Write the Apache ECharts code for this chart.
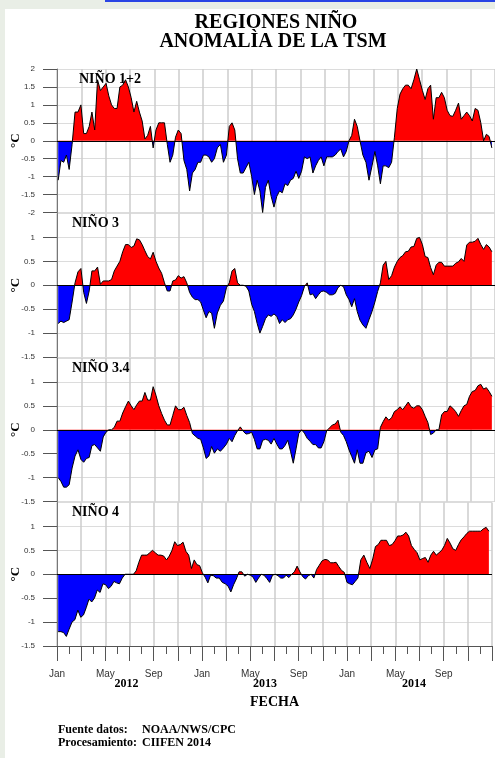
<!DOCTYPE html>
<html>
<head>
<meta charset="utf-8">
<script src="https://cdn.jsdelivr.net/npm/echarts@6/dist/echarts.min.js"></script>
<style>
  html, body { margin: 0; padding: 0; background: #e9eee6; }
  #paper { position: absolute; left: 5px; top: 9px; width: 490px; height: 749px; background: #fff; }
  #topline { position: absolute; left: 105px; top: 0; width: 390px; height: 2px; background: #2a45e4; }
  #chart { position: absolute; left: 0; top: 0; width: 495px; height: 758px; }
</style>
</head>
<body>
<div id="paper"></div>
<div id="topline"></div>
<div id="chart"></div>
<script>
// weekly SST anomalies (°C), first week centred 4 Jan 2012
var firstWeek = [2012, 0, 4];

var nino12 = [-1.1, -0.55, -0.6, -0.4, -0.8, -0.1, 0.8, 0.8, 1.0, 0.2, 0.2, 0.4, 0.8, 0.3, 1.7, 1.4, 1.5, 1.6, 1.25, 1.0,
  0.9, 0.9, 1.5, 1.55, 1.7, 1.5, 1.2, 0.8, 1.1, 0.8, 0.55, 0.05, 0.15, 0.4, -0.2, 0.3, 0.5, 0.5, 0.5, -0.1,
  -0.6, -0.4, 0.1, 0.3, 0.2, -0.55, -0.8, -1.4, -0.9, -0.8, -0.6, -0.6, -0.4, -0.4, -0.45, -0.6, -0.5, -0.2, -0.1, -0.6,
  -0.4, 0.4, 0.5, 0.3, -0.5, -0.9, -0.9, -0.75, -0.6, -1.0, -1.5, -1.1, -1.4, -2.0, -1.3, -1.1, -1.55, -1.85, -1.55, -1.4,
  -1.45, -1.2, -1.25, -1.1, -1.05, -0.85, -1.05, -0.85, -0.45, -0.5, -0.45, -0.9, -0.7, -0.55, -0.45, -0.7, -0.45, -0.45, -0.45, -0.4,
  -0.3, -0.23, -0.45, -0.3, 0.0, 0.15, 0.6, 0.4, 0.0, -0.4, -0.6, -1.1, -0.7, -0.3, -0.7, -1.2, -0.7, -0.7, -0.75, -0.6,
  0.1, 0.9, 1.3, 1.45, 1.55, 1.55, 1.45, 1.7, 2.0, 1.7, 1.4, 1.15, 1.45, 1.55, 0.6, 1.2, 1.2, 1.35, 1.2, 0.85,
  0.7, 0.68, 0.85, 1.05, 0.6, 0.7, 0.8, 0.7, 0.55, 0.9, 0.85, 0.5, 0.0, 0.18, 0.12, -0.2];

var nino3 = [-0.8, -0.75, -0.78, -0.75, -0.72, -0.35, 0.05, 0.28, 0.35, -0.15, -0.38, -0.12, 0.3, 0.3, 0.38, 0.02, 0.09, 0.09, 0.09, 0.12,
  0.3, 0.4, 0.5, 0.7, 0.85, 0.85, 0.79, 0.82, 0.97, 0.95, 0.85, 0.72, 0.6, 0.55, 0.69, 0.5, 0.36, 0.25, 0.05, -0.12,
  -0.12, 0.09, 0.11, 0.2, 0.15, 0.18, 0.05, -0.15, -0.25, -0.3, -0.3, -0.35, -0.52, -0.68, -0.55, -0.58, -0.9, -0.58, -0.42, -0.33,
  -0.05, 0.05, 0.3, 0.35, 0.05, 0.0, 0.0, -0.02, -0.12, -0.4, -0.55, -0.8, -1.0, -0.86, -0.7, -0.62, -0.65, -0.6, -0.65, -0.8,
  -0.72, -0.78, -0.72, -0.7, -0.62, -0.5, -0.35, -0.22, -0.03, 0.05, -0.2, -0.18, -0.28, -0.2, -0.13, -0.12, -0.15, -0.2, -0.2, -0.17,
  -0.05, 0.0, -0.03, -0.2, -0.3, -0.45, -0.28, -0.55, -0.73, -0.83, -0.9, -0.72, -0.55, -0.35, -0.13, 0.05, 0.42, 0.5, 0.12, 0.2,
  0.38, 0.5, 0.58, 0.62, 0.7, 0.71, 0.8, 0.81, 0.98, 1.0, 0.85, 0.6, 0.58, 0.37, 0.22, 0.42, 0.48, 0.48, 0.4, 0.4,
  0.4, 0.4, 0.46, 0.49, 0.56, 0.5, 0.84, 0.9, 0.9, 0.92, 0.98, 0.85, 0.75, 0.85, 0.8, 0.7];

var nino34 = [-1.0, -1.08, -1.2, -1.2, -1.15, -0.8, -0.55, -0.42, -0.62, -0.68, -0.6, -0.58, -0.33, -0.31, -0.38, -0.45, -0.15, -0.05, 0.0, 0.0,
  0.05, 0.18, 0.18, 0.35, 0.48, 0.6, 0.5, 0.42, 0.52, 0.6, 0.6, 0.78, 0.62, 0.62, 0.9, 0.72, 0.5, 0.34, 0.2, 0.1,
  0.1, 0.3, 0.5, 0.42, 0.42, 0.47, 0.3, 0.15, -0.08, -0.13, -0.18, -0.2, -0.38, -0.6, -0.55, -0.35, -0.49, -0.4, -0.45, -0.38,
  -0.3, -0.18, -0.25, -0.12, -0.02, 0.06, -0.03, -0.09, -0.08, -0.05, -0.2, -0.4, -0.4, -0.22, -0.2, -0.22, -0.3, -0.18, -0.3, -0.4,
  -0.4, -0.33, -0.22, -0.45, -0.7, -0.4, -0.08, 0.0, -0.07, -0.18, -0.24, -0.31, -0.31, -0.38, -0.38, -0.25, -0.02, 0.04, 0.1, 0.12,
  0.2, -0.05, -0.12, -0.25, -0.42, -0.56, -0.7, -0.42, -0.7, -0.7, -0.48, -0.45, -0.58, -0.42, -0.4, 0.05, 0.17, 0.27, 0.2, 0.25,
  0.38, 0.42, 0.48, 0.42, 0.5, 0.58, 0.48, 0.45, 0.5, 0.5, 0.42, 0.28, 0.15, -0.1, -0.07, 0.0, 0.0, 0.31, 0.38, 0.38,
  0.5, 0.45, 0.38, 0.28, 0.4, 0.5, 0.53, 0.7, 0.8, 0.82, 0.92, 0.95, 0.85, 0.88, 0.8, 0.7];

var nino4 = [-1.2, -1.2, -1.22, -1.3, -1.15, -1.0, -0.95, -0.75, -0.9, -0.85, -0.7, -0.52, -0.58, -0.5, -0.33, -0.38, -0.2, -0.22, -0.3, -0.25,
  -0.15, -0.18, -0.2, -0.08, 0.0, 0.0, 0.0, 0.0, 0.07, 0.25, 0.4, 0.4, 0.4, 0.45, 0.5, 0.45, 0.4, 0.4, 0.38, 0.3,
  0.38, 0.5, 0.68, 0.6, 0.62, 0.67, 0.48, 0.4, 0.12, 0.3, 0.2, 0.18, 0.03, -0.06, -0.18, -0.02, -0.03, -0.08, -0.08, -0.17,
  -0.2, -0.25, -0.37, -0.22, -0.1, 0.05, 0.05, -0.04, 0.0, -0.02, -0.06, -0.17, -0.08, 0.0, -0.02, -0.09, -0.17, -0.02, 0.0, -0.03,
  -0.08, -0.08, -0.02, -0.07, 0.0, 0.05, 0.17, 0.05, -0.05, -0.1, -0.03, 0.0, -0.08, 0.1, 0.19, 0.28, 0.31, 0.3, 0.24, 0.24,
  0.25, 0.16, 0.08, 0.04, -0.17, -0.2, -0.22, -0.15, -0.08, 0.3, 0.4, 0.25, 0.12, 0.32, 0.58, 0.62, 0.71, 0.71, 0.71, 0.6,
  0.62, 0.7, 0.8, 0.8, 0.82, 0.88, 0.8, 0.6, 0.52, 0.45, 0.3, 0.33, 0.35, 0.25, 0.4, 0.48, 0.4, 0.45, 0.5, 0.6,
  0.75, 0.65, 0.53, 0.5, 0.62, 0.72, 0.78, 0.85, 0.9, 0.9, 0.9, 0.9, 0.9, 0.95, 0.98, 0.9];

var regionNames = ['NIÑO 1+2', 'NIÑO 3', 'NIÑO 3.4', 'NIÑO 4'];
var regionValues = [nino12, nino3, nino34, nino4];
var yRanges = [[-2, 2], [-1.5, 1.5], [-1.5, 1.5], [-1.5, 1.5]];
var monthNames = ['Jan', 'May', 'Sep'];
var years = ['2012', '2013', '2014'];

// week index -> months since 1 Jan 2012 (x axis unit)
function monthPos(i) {
  var d = new Date(Date.UTC(firstWeek[0], firstWeek[1], firstWeek[2] + 7 * i));
  var y = d.getUTCFullYear(), m = d.getUTCMonth(), day = d.getUTCDate();
  var dim = new Date(Date.UTC(y, m + 1, 0)).getUTCDate();
  return (y - firstWeek[0]) * 12 + m + (day - 1) / dim;
}

var serif = '"Liberation Serif", "Times New Roman", serif';
var sans = '"Liberation Sans", Arial, sans-serif';
var tops = [69, 213.5, 358, 502.5];
var H = 143.5;

function txt(s, x, y, font, align, rot) {
  return {
    type: 'text', x: x, y: y, rotation: rot || 0, z: 100, silent: true,
    style: {
      text: s, font: font, fill: '#000',
      align: align || 'left', textAlign: align || 'left',
      verticalAlign: 'middle', textVerticalAlign: 'middle'
    }
  };
}

var grids = [], xAxes = [], yAxes = [], series = [], graphics = [];

regionValues.forEach(function(vals, k) {
  var last = k === 3;
  grids.push({ left: 57, width: 438, top: tops[k], height: H });
  xAxes.push({
    gridIndex: k, type: 'value', min: 0, max: 36, interval: 2,
    axisLine: { show: last, onZero: false, lineStyle: { color: '#555', width: 1 } },
    axisTick: { show: last, length: 15, lineStyle: { color: '#555' } },
    minorTick: { show: last, splitNumber: 2, length: 8, lineStyle: { color: '#555' } },
    axisLabel: {
      show: last, fontSize: 10, fontFamily: sans, color: '#333', margin: 23,
      formatter: function(v) {
        if (v >= 36 || v % 4 !== 0) return '';
        return monthNames[(v % 12) / 4];
      }
    },
    splitLine: { show: true, lineStyle: { color: '#cdcdcd', width: 1.5 } }
  });
  yAxes.push({
    gridIndex: k, type: 'value', min: yRanges[k][0], max: yRanges[k][1], interval: 0.5,
    axisLine: { show: true, lineStyle: { color: '#777', width: 1 } },
    axisTick: { show: true, length: 14, lineStyle: { color: '#555' } },
    axisLabel: { fontSize: 8, fontFamily: sans, color: '#333', margin: 22, showMaxLabel: k === 0 },
    splitLine: { show: true, lineStyle: { color: '#dcdcdc', width: 1 } }
  });
  series.push({
    type: 'line', xAxisIndex: k, yAxisIndex: k, silent: true,
    showSymbol: false, symbol: 'none',
    lineStyle: { color: '#000', width: 1 },
    areaStyle: { opacity: 1 },
    data: vals.map(function(v, i) { return [monthPos(i), v]; }),
    markLine: {
      silent: true, symbol: ['none', 'none'], label: { show: false },
      lineStyle: { color: '#000', width: 1, type: 'solid' },
      data: [{ yAxis: 0 }]
    }
  });
  var zeroY = tops[k] + H * yRanges[k][1] / (yRanges[k][1] - yRanges[k][0]);
  graphics.push(txt('°C', 15.5, zeroY, 'bold 13px ' + serif, 'center', Math.PI / 2));
  graphics.push(txt(regionNames[k], k === 0 ? 79 : 72, tops[k] + 10, 'bold 14px ' + serif, 'left'));
});

graphics.push(txt('REGIONES NIÑO', 276, 23, 'bold 20px ' + serif, 'center'));
graphics.push(txt('ANOMALÌA DE LA TSM', 273, 42, 'bold 20px ' + serif, 'center'));
graphics.push(txt(years[0], 126.5, 684, 'bold 12px ' + serif, 'center'));
graphics.push(txt(years[1], 265, 684, 'bold 12px ' + serif, 'center'));
graphics.push(txt(years[2], 414, 684, 'bold 12px ' + serif, 'center'));
graphics.push(txt('FECHA', 274.5, 702, 'bold 14px ' + serif, 'center'));
graphics.push(txt('Fuente datos:', 58, 730, 'bold 12px ' + serif, 'left'));
graphics.push(txt('NOAA/NWS/CPC', 142, 730, 'bold 12px ' + serif, 'left'));
graphics.push(txt('Procesamiento:', 58, 743, 'bold 12px ' + serif, 'left'));
graphics.push(txt('CIIFEN 2014', 142, 743, 'bold 12px ' + serif, 'left'));

var option = {
  backgroundColor: 'transparent',
  animation: false,
  grid: grids,
  xAxis: xAxes,
  yAxis: yAxes,
  visualMap: {
    type: 'piecewise', show: false, dimension: 1, seriesIndex: [0, 1, 2, 3],
    pieces: [{ gt: 0, lte: 10, color: '#ff0000' }, { gte: -10, lte: 0, color: '#0000ff' }]
  },
  series: series,
  graphic: graphics
};

var myChart = echarts.init(document.getElementById('chart'));
myChart.setOption(option);
</script>
</body>
</html>
